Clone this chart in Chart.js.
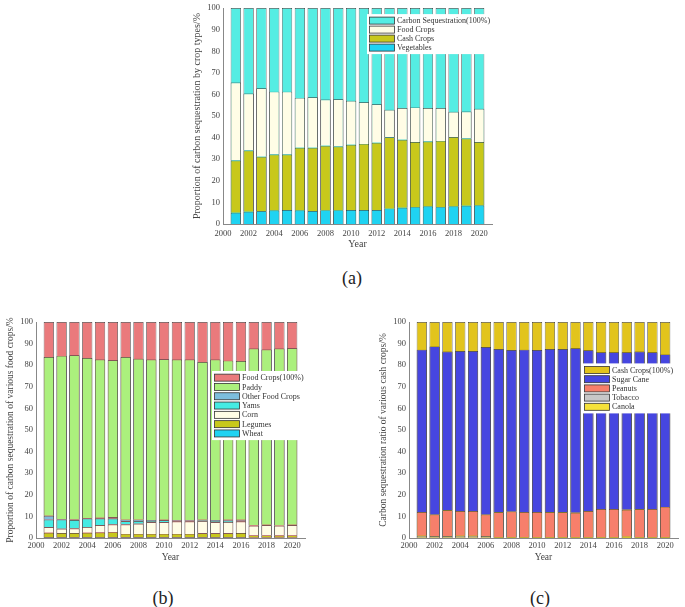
<!DOCTYPE html>
<html>
<head>
<meta charset="utf-8">
<script src="https://cdn.jsdelivr.net/npm/chart.js@4.4.1/dist/chart.umd.min.js"></script>
<style>
  html, body { margin: 0; padding: 0; background: #fff; }
  #page { position: relative; width: 685px; height: 607px; overflow: hidden; }
  canvas { position: absolute; }
  .cap { position: absolute; width: 60px; text-align: center; line-height: 20px;
         font-family: "Liberation Serif", "Times New Roman", serif; font-size: 18px; color: #222; }
</style>
</head>
<body>
<div id="page">
  <canvas id="chartA" style="left:185px;top:0px" width="315" height="252"></canvas>
  <canvas id="chartB" style="left:0px;top:310px" width="315" height="255"></canvas>
  <canvas id="chartC" style="left:373px;top:310px" width="312" height="255"></canvas>
  <div class="cap" style="left:322px;top:268px">(a)</div>
  <div class="cap" style="left:133px;top:588px">(b)</div>
  <div class="cap" style="left:510px;top:588px">(c)</div>
</div>
<script>
const years = [2001, 2002, 2003, 2004, 2005, 2006, 2007, 2008, 2009, 2010,
               2011, 2012, 2013, 2014, 2015, 2016, 2017, 2018, 2019, 2020];

// (a) share of carbon sequestration by crop type, %
const vegetables = [5.2, 5.7, 5.9, 6.2, 6.5, 6.2, 6.0, 6.3, 6.3, 6.5, 6.5, 6.5, 7.1, 7.5, 7.8, 8.1, 7.8, 8.1, 8.4, 8.6];
const cashCrops  = [24.2, 28.3, 25.2, 26.0, 25.7, 29.1, 29.3, 29.9, 29.6, 30.2, 30.6, 31.1, 33.1, 31.5, 30.2, 30.1, 30.7, 32.2, 31.2, 29.4];
const foodCrops  = [36.1, 26.4, 31.8, 29.1, 29.1, 23.1, 23.4, 21.5, 21.9, 20.4, 19.3, 17.9, 12.7, 14.7, 16.0, 15.5, 15.2, 11.7, 12.5, 15.4];
const carbonAll  = [100, 100, 100, 100, 100, 100, 100, 100, 100, 100, 100, 100, 100, 100, 100, 100, 100, 100, 100, 100];

// (b) food crops, %
const wheat     = [0.3, 0.3, 0.3, 0.3, 0.3, 0.3, 0.3, 0.3, 0.3, 0.3, 0.3, 0.3, 0.3, 0.3, 0.3, 0.3, 0.2, 0.2, 0.2, 0.2];
const legumes   = [2.1, 2.0, 2.0, 2.1, 2.2, 2.4, 1.6, 1.6, 1.6, 1.6, 1.6, 1.6, 1.9, 1.9, 1.9, 2.0, 1.0, 1.0, 0.9, 1.0];
const corn      = [2.6, 2.0, 2.1, 2.7, 3.4, 3.5, 4.3, 4.7, 5.4, 5.4, 5.7, 5.7, 5.7, 5.1, 5.2, 5.3, 4.5, 4.7, 4.5, 4.7];
const yams      = [3.5, 4.2, 3.9, 3.9, 3.1, 2.8, 1.5, 1.3, 0.6, 0.9, 0.3, 0.3, 0.3, 0.6, 0.6, 0.4, 0.1, 0.1, 0.1, 0.1];
const otherFood = [1.8, 0.3, 0.3, 0.3, 0.4, 0.6, 0.8, 0.6, 0.4, 0.3, 0.3, 0.3, 0.3, 0.4, 0.5, 0.5, 0.1, 0.1, 0.1, 0.1];
const paddy     = [73.5, 75.5, 76.0, 74.0, 73.2, 72.7, 75.3, 74.5, 74.3, 74.2, 74.4, 74.4, 73.0, 74.3, 73.6, 73.4, 81.8, 81.2, 81.9, 81.7];
const foodAll   = [100, 100, 100, 100, 100, 100, 100, 100, 100, 100, 100, 100, 100, 100, 100, 100, 100, 100, 100, 100];

// (c) cash crops, %
const canola    = [0.1, 0.1, 0.1, 0.1, 0.1, 0.1, 0.1, 0.1, 0.1, 0.1, 0.1, 0.1, 0.1, 0.1, 0.1, 0.1, 0.4, 0.1, 0.1, 0.1];
const tobacco   = [0.9, 0.8, 0.8, 0.9, 0.9, 0.8, 0.3, 0.3, 0.3, 0.3, 0.3, 0.3, 0.3, 0.3, 0.3, 0.3, 0.3, 0.3, 0.3, 0.3];
const peanuts   = [11.0, 9.9, 11.9, 11.5, 11.5, 9.9, 11.5, 11.8, 11.6, 11.6, 11.5, 11.5, 11.3, 12.1, 13.0, 13.0, 12.4, 12.9, 13.0, 14.0];
const sugarCane = [75.2, 77.9, 73.5, 74.1, 74.1, 77.6, 75.6, 74.8, 75.2, 75.0, 75.6, 75.6, 76.1, 74.4, 72.6, 72.6, 72.9, 73.0, 72.6, 70.6];
const cashAll   = [100, 100, 100, 100, 100, 100, 100, 100, 100, 100, 100, 100, 100, 100, 100, 100, 100, 100, 100, 100];

const serif = '"Liberation Serif", "Times New Roman", serif';

// legend drawn inside the plot, on a white box, last dataset first
const boxLegend = {
  id: 'boxLegend',
  afterDatasetsDraw(chart, args, o) {
    if (!o || o.left === undefined) return;
    const ctx = chart.ctx;
    const a = chart.chartArea;
    const items = chart.data.datasets.slice().reverse();
    const x0 = a.left + o.left, y0 = a.top + o.top;
    ctx.save();
    ctx.fillStyle = '#fff';
    ctx.fillRect(x0, y0, o.width, items.length * o.row + 4);
    ctx.font = o.fontSize + 'px ' + serif;
    ctx.textBaseline = 'middle';
    items.forEach((ds, i) => {
      const cy = y0 + 2 + o.row * (i + 0.5);
      ctx.fillStyle = ds.backgroundColor;
      ctx.fillRect(x0 + 2.5, cy - 3.5, 25, 7);
      ctx.strokeStyle = '#333';
      ctx.lineWidth = 0.8;
      ctx.strokeRect(x0 + 2.5, cy - 3.5, 25, 7);
      ctx.fillStyle = '#333';
      ctx.fillText(ds.label, x0 + 30, cy + 0.5);
    });
    ctx.restore();
  }
};

function bars(label, values, color, stack) {
  return {
    label: label,
    stack: stack,
    grouped: false,
    categoryPercentage: 1,
    barPercentage: 0.8,
    backgroundColor: color,
    borderColor: '#3a3a3a',
    borderWidth: 0.7,
    data: years.map((yr, i) => ({ x: yr, y: values[i] }))
  };
}

function options(c) {
  const tickFont = { family: serif, size: 8.5 };
  const titleFont = { family: serif, size: c.titleSize };
  return {
    responsive: false,
    animation: false,
    layout: { padding: { left: 0, right: c.padRight, top: c.padTop, bottom: 0 } },
    plugins: {
      legend: { display: false },
      tooltip: { enabled: false },
      boxLegend: c.legend
    },
    scales: {
      x: {
        type: 'linear', min: 2000, max: 2021, offset: false,
        grid: { display: false, drawTicks: false },
        border: { display: true, color: '#888', width: 1 },
        ticks: { stepSize: 2, includeBounds: false, autoSkip: false, maxRotation: 0,
                 padding: c.xPad, color: '#444', font: tickFont, callback: v => String(v) },
        title: { display: true, text: 'Year', color: '#444', font: titleFont,
                 padding: { top: 0, bottom: c.yearPad } },
        afterFit: s => { s.height = c.xHeight; }
      },
      y: {
        stacked: true, min: 0, max: 100,
        grid: { display: false, drawTicks: false },
        border: { display: true, color: '#888', width: 1 },
        ticks: { stepSize: 10, padding: 3, color: '#444', font: tickFont },
        title: { display: true, text: c.yTitle, color: '#444', font: titleFont,
                 padding: { top: c.yTitlePad, bottom: 0 } },
        afterFit: s => { s.width = c.yWidth; }
      }
    }
  };
}

new Chart(document.getElementById('chartA'), {
  type: 'bar',
  data: {
    datasets: [
      bars('Vegetables', vegetables, '#1FD3F2', 'parts'),
      bars('Cash Crops', cashCrops, '#C8C81B', 'parts'),
      bars('Food Crops', foodCrops, '#FFFDE6', 'parts'),
      bars('Carbon Sequestration(100%)', carbonAll, '#55EDE3', 'total')
    ]
  },
  options: options({
    yTitle: 'Proportion of carbon sequestration by crop types/%',
    titleSize: 10, yTitlePad: 6, yWidth: 38, padRight: 8, padTop: 7,
    xHeight: 28, xPad: 4.5, yearPad: 2,
    legend: { left: 144, top: 6, width: 123, row: 9, fontSize: 8 }
  }),
  plugins: [boxLegend]
});

new Chart(document.getElementById('chartB'), {
  type: 'bar',
  data: {
    datasets: [
      bars('Wheat', wheat, '#1FD3F2', 'parts'),
      bars('Legumes', legumes, '#C8C81B', 'parts'),
      bars('Corn', corn, '#FFFDE6', 'parts'),
      bars('Yams', yams, '#45EBE3', 'parts'),
      bars('Other Food Crops', otherFood, '#7DBEDD', 'parts'),
      bars('Paddy', paddy, '#ABF07D', 'parts'),
      bars('Food Crops(100%)', foodAll, '#EA7A7C', 'total')
    ]
  },
  options: options({
    yTitle: 'Proportion of carbon sequestration of various food crops/%',
    titleSize: 9.5, yTitlePad: 4.3, yWidth: 36, padRight: 10, padTop: 12,
    xHeight: 27, xPad: 3, yearPad: 2.3,
    legend: { left: 176, top: 49, width: 92, row: 9.3, fontSize: 8 }
  }),
  plugins: [boxLegend]
});

new Chart(document.getElementById('chartC'), {
  type: 'bar',
  data: {
    datasets: [
      bars('Canola', canola, '#F5E23A', 'parts'),
      bars('Tobacco', tobacco, '#C8C8C8', 'parts'),
      bars('Peanuts', peanuts, '#F77F6B', 'parts'),
      bars('Sugar Cane', sugarCane, '#4646E0', 'parts'),
      bars('Cash Crops(100%)', cashAll, '#E2C41C', 'total')
    ]
  },
  options: options({
    yTitle: 'Carbon sequestration ratio of various cash crops/%',
    titleSize: 9.5, yTitlePad: 4.3, yWidth: 36, padRight: 7, padTop: 12,
    xHeight: 27, xPad: 3, yearPad: 2.3,
    legend: { left: 173, top: 41.4, width: 90, row: 9.2, fontSize: 8 }
  }),
  plugins: [boxLegend]
});
</script>
</body>
</html>
